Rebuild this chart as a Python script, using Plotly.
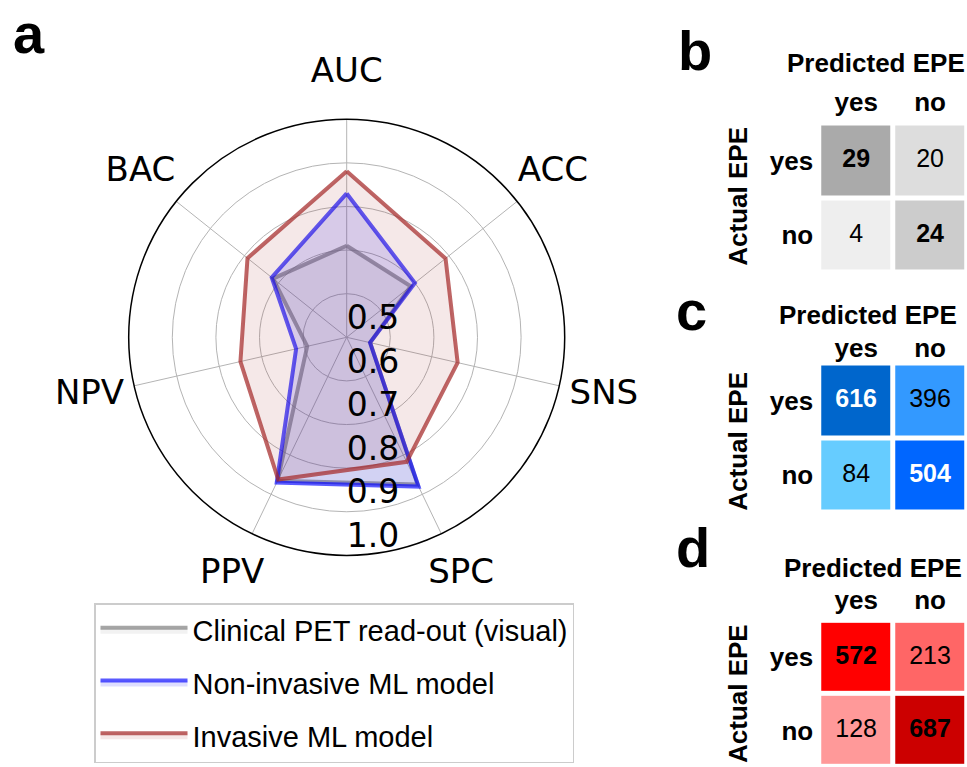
import plotly.graph_objects as go

# ---------------- data ----------------
metrics = ["AUC", "ACC", "SNS", "SPC", "PPV", "NPV", "BAC"]
clinical = [0.71, 0.688, 0.555, 0.875, 0.865, 0.593, 0.716]
noninvasive = [0.83, 0.70, 0.555, 0.88, 0.87, 0.619, 0.72]
invasive = [0.881, 0.79, 0.761, 0.817, 0.862, 0.75, 0.791]
series_names = ["Clinical PET read-out (visual)", "Non-invasive ML model", "Invasive ML model"]
radial_ticks = [0.5, 0.6, 0.7, 0.8, 0.9, 1.0]
radial_ticktext = ["0.5", "0.6", "0.7", "0.8", "0.9", "1.0"]

pred_labels = ["yes", "no"]
actual_labels = ["yes", "no"]
cm_clinical = [[29, 20], [4, 24]]
cm_noninv = [[616, 396], [84, 504]]
cm_inv = [[572, 213], [128, 687]]
panel_letters = ["a", "b", "c", "d"]

# ---------------- styles ----------------
W, H = 967, 767
line_colors = ["rgba(128,128,128,0.7)", "rgba(0,0,255,0.65)", "rgba(165,42,42,0.72)"]
fill_colors = ["rgba(128,128,128,0.10)", "rgba(0,0,255,0.13)", "rgba(165,42,42,0.11)"]
GRID = "#b4b4b4"
SANS = "Liberation Sans"
DV = "DejaVu Sans"
R_MIN, R_MAX = 0.5, 1.0
LABEL_R = 1.105           # radius (in axis units) at which the metric names sit
LABEL_RANGE_MAX = 1.2     # range of the helper polar used for the metric names
RADIAL_LABEL_THETA = 180  # direction of the column of radial tick labels

n_axes = len(metrics)
angles = [i * 360.0 / n_axes for i in range(n_axes)]

fig = go.Figure()

for name, vals, lc, fc in zip(series_names, [clinical, noninvasive, invasive], line_colors, fill_colors):
    fig.add_trace(go.Scatterpolar(
        r=vals + vals[:1], theta=angles + angles[:1], name=name,
        mode="lines", fill="toself", fillcolor=fc,
        line=dict(color=lc, width=4), legendgroup=name, hoverinfo="skip",
    ))

# radial tick labels
fig.add_trace(go.Scatterpolar(
    r=radial_ticks, theta=[RADIAL_LABEL_THETA] * len(radial_ticks), text=radial_ticktext,
    mode="text", textposition="top right", textfont=dict(family=DV, size=33, color="black"),
    cliponaxis=False, showlegend=False, hoverinfo="skip",
))
# metric names around the circle (helper polar sharing the same centre and scale)
fig.add_trace(go.Scatterpolar(
    r=[LABEL_R] * n_axes, theta=angles, text=metrics, mode="text", subplot="polar2",
    textposition="middle center", textfont=dict(family=DV, size=34, color="black"),
    cliponaxis=False, showlegend=False, hoverinfo="skip",
))

# heatmaps
def px2x(p):
    return p / W

def px2y(p):
    return 1 - p / H

heat_specs = [
    (cm_clinical, ["#EEEEEE", "#DDDDDD", "#CCCCCC", "#AAAAAA"], [123.5, 272.5],
     [[False, False], [False, False]], 6),
    (cm_noninv, ["#66CCFF", "#3399FF", "#0066FF", "#0066CC"], [363.5, 512.5],
     [[True, False], [False, True]], 0),
    (cm_inv, ["#FF9999", "#FF6666", "#FF0000", "#CC0000"], [620.8, 767.0],
     [[False, False], [False, False]], 6),
]

layout_axes = {}
for i, (cm, cols, (ytop, ybot), white, xstand) in enumerate(heat_specs):
    n = i + 2
    xa, ya = f"x{n}", f"y{n}"
    flat = sorted(v for row in cm for v in row)
    lo, hi = flat[0], flat[-1]
    cscale = [[(v - lo) / (hi - lo), c] for v, c in zip(flat, cols)]
    fig.add_trace(go.Heatmap(
        z=cm, x=pred_labels, y=actual_labels, colorscale=cscale, zmin=lo, zmax=hi,
        showscale=False, xgap=5, ygap=5, xaxis=xa, yaxis=ya, hoverinfo="skip",
    ))
    tx, ty, tt, tc = [], [], [], []
    for r, al in enumerate(actual_labels):
        for c, pl in enumerate(pred_labels):
            tx.append(pl)
            ty.append(al)
            v = str(cm[r][c])
            tt.append(f"<b>{v}</b>" if r == c else v)
            tc.append("white" if white[r][c] else "black")
    fig.add_trace(go.Scatter(
        x=tx, y=ty, text=tt, mode="text", textposition="middle center",
        textfont=dict(family=SANS, size=25, color=tc), xaxis=xa, yaxis=ya,
        showlegend=False, hoverinfo="skip",
    ))
    layout_axes[f"xaxis{n}"] = dict(
        domain=[px2x(819.2), 1.0], side="top", anchor=ya, showgrid=False, zeroline=False,
        showline=False, ticks="", tickfont=dict(family=SANS, size=26, color="black", weight="bold"),
        categoryorder="array", categoryarray=pred_labels, ticklabelstandoff=xstand,
    )
    layout_axes[f"yaxis{n}"] = dict(
        domain=[max(0.0, px2y(ybot)), px2y(ytop)], anchor=xa, showgrid=False, zeroline=False,
        showline=False, ticks="", autorange="reversed", ticklabelstandoff=5,
        tickfont=dict(family=SANS, size=26, color="black", weight="bold"),
        categoryorder="array", categoryarray=actual_labels,
    )

annotations = []
# panel letters
annotations.append(dict(text="<b>a</b>", xref="paper", yref="paper", x=px2x(11), y=1.0,
                        xanchor="left", yanchor="top", showarrow=False,
                        font=dict(family=SANS, size=56, color="black")))
for letter, (lx, ly) in zip(panel_letters[1:], [(676, 50.2), (674, 310.2), (674, 547.2)]):
    annotations.append(dict(text=f"<b>{letter}</b>", xref="paper", yref="paper",
                            x=px2x(lx), y=px2y(ly), xanchor="left", yanchor="middle",
                            showarrow=False, font=dict(family=SANS, size=56, color="black")))
# heatmap titles
for cx, cy in [(875.8, 63.3), (868.3, 315.0), (872.5, 568.3)]:
    annotations.append(dict(text="<b>Predicted EPE</b>", xref="paper", yref="paper",
                            x=px2x(cx), y=px2y(cy), xanchor="center", yanchor="middle",
                            showarrow=False, font=dict(family=SANS, size=26, color="black")))
for cx, cy in [(738, 196.7), (738, 441.7), (738, 694.0)]:
    annotations.append(dict(text="<b>Actual EPE</b>", xref="paper", yref="paper",
                            x=px2x(cx), y=px2y(cy), xanchor="center", yanchor="middle",
                            textangle=-90, showarrow=False,
                            font=dict(family=SANS, size=26, color="black")))

cx0, cy0, R = 346.7, 337.3, 218.0
R2 = R * (LABEL_RANGE_MAX - R_MIN) / (R_MAX - R_MIN)
hidden_axis = dict(visible=False, showgrid=False, showline=False, showticklabels=False, ticks="")
fig.update_layout(
    width=W, height=H, margin=dict(l=0, r=0, t=0, b=0),
    paper_bgcolor="white", plot_bgcolor="white",
    polar=dict(
        domain=dict(x=[px2x(cx0 - R), px2x(cx0 + R)], y=[px2y(cy0 + R), px2y(cy0 - R)]),
        bgcolor="white",
        angularaxis=dict(
            direction="clockwise", rotation=90, thetaunit="degrees",
            tickmode="array", tickvals=angles, ticktext=metrics, showticklabels=False,
            showline=True, linecolor="black", linewidth=1.5,
            gridcolor=GRID, gridwidth=1.4, ticks="",
        ),
        radialaxis=dict(
            range=[R_MIN, R_MAX], tickvals=radial_ticks, ticktext=radial_ticktext,
            showticklabels=False, showline=False, ticks="",
            gridcolor=GRID, gridwidth=1.4,
        ),
    ),
    polar2=dict(
        domain=dict(x=[px2x(cx0 - R2), px2x(cx0 + R2)], y=[px2y(cy0 + R2), px2y(cy0 - R2)]),
        bgcolor="rgba(0,0,0,0)",
        angularaxis=dict(direction="clockwise", rotation=90, thetaunit="degrees", **hidden_axis),
        radialaxis=dict(range=[R_MIN, LABEL_RANGE_MAX], **hidden_axis),
    ),
    legend=dict(
        x=px2x(94), y=px2y(603), xanchor="left", yanchor="top",
        font=dict(family=SANS, size=29, color="black"),
        bordercolor="#cccccc", borderwidth=1.5, bgcolor="white",
        itemwidth=87, tracegroupgap=12,
    ),
    annotations=annotations,
    showlegend=True,
    **layout_axes,
)

fig.write_html("out.html", config={"displayModeBar": False},
               post_script="document.body.style.margin='0';")
